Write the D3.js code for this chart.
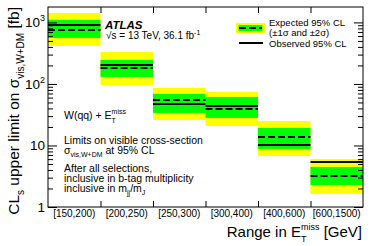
<!DOCTYPE html>
<html><head><meta charset="utf-8">
<script src="https://cdn.jsdelivr.net/npm/d3@7"></script>
<style>
body{margin:0;background:#fff}
svg{display:block}
text{font-family:"Liberation Sans",Arial,Helvetica,sans-serif;fill:#000;white-space:pre}
</style>
</head><body>
<svg id="c" width="374" height="246"></svg>
<script>
// ---- data ----
const categories = ["[150,200)","[200,250)","[250,300)","[300,400)","[400,600)","[600,1500)"];
const observed = [910, 204, 47.3, 43.9, 10.2, 5.4];
const expected = [755, 182, 55, 39.2, 13.7, 3.19];
const minus1s  = [560, 130, 33.8, 28, 8.8, 2.28];
const plus1s   = [1099, 246, 68.8, 61.5, 19.3, 4.47];
const minus2s  = [415, 96, 26, 20.7, 6.75, 1.63];
const plus2s   = [1427, 331, 86, 74, 25, 6.03];
const yMajorTicks = [1, 10, 100, 1000];
const yTickLabels = [["1",""],["10",""],["10","2"],["10","3"]];
const yDomain = [1, 1780];

// ---- layout ----
const L = 48, R = 363, T = 7, B = 207;
const svg = d3.select("#c");
const x = d3.scaleBand().domain(categories).range([L, R]).padding(0);
const xb = d3.scaleLinear().domain([0, categories.length]).range([L, R]);
const y = d3.scaleLog().domain(yDomain).range([B, T]);

const yMinor = [];
for (let d = 1; d <= 1000; d *= 10) for (let k = 2; k <= 9; k++) { const v = d * k; if (v < yDomain[1]) yMinor.push(v); }

function rich(parent, segs, size, opts = {}) {
  const g = parent.append("g");
  let cx = 0;
  segs.forEach(s => {
    if (typeof s === "string") {
      const t = g.append("text").attr("x", cx).attr("y", 0).attr("xml:space", "preserve").style("font-size", size + "px")
        .style("font-weight", opts.weight || "normal").style("font-style", opts.style || "normal").text(s);
      cx += t.node().getComputedTextLength();
    } else {
      let w = 0;
      const ss = s.size || size * 0.62;
      if (s.sup) { const t = g.append("text").attr("x", cx).attr("y", -size * (s.supUp || 0.42)).style("font-size", ss + "px").text(s.sup); w = Math.max(w, t.node().getComputedTextLength()); }
      if (s.sub) { const t = g.append("text").attr("x", cx).attr("y", size * (s.subDown || 0.3)).style("font-size", ss + "px").text(s.sub); w = Math.max(w, t.node().getComputedTextLength()); }
      cx += w;
    }
  });
  return { g, w: cx };
}
function place(r, px, py, anchor, rot) {
  const dx = anchor === "end" ? -r.w : anchor === "middle" ? -r.w / 2 : 0;
  r.g.attr("transform", `translate(${px},${py})${rot ? " rotate(" + rot + ")" : ""} translate(${dx},0)`);
}

// ---- bands ----
const bins = categories.map((c, i) => ({ c, o: observed[i], e: expected[i], m1: minus1s[i], p1: plus1s[i], m2: minus2s[i], p2: plus2s[i] }));
svg.append("g").selectAll("rect").data(bins).join("rect")
  .attr("x", d => x(d.c)).attr("width", x.bandwidth())
  .attr("y", d => y(d.p2)).attr("height", d => y(d.m2) - y(d.p2)).attr("fill", "#ffff00");
svg.append("g").selectAll("rect").data(bins).join("rect")
  .attr("x", d => x(d.c)).attr("width", x.bandwidth())
  .attr("y", d => y(d.p1)).attr("height", d => y(d.m1) - y(d.p1)).attr("fill", "#00ff00");
svg.append("g").selectAll("line").data(bins).join("line")
  .attr("x1", d => x(d.c)).attr("x2", d => x(d.c) + x.bandwidth())
  .attr("y1", d => y(d.e)).attr("y2", d => y(d.e))
  .attr("stroke", "#000").attr("stroke-width", 2).attr("stroke-dasharray", "7,3");
svg.append("g").selectAll("line").data(bins).join("line")
  .attr("x1", d => x(d.c)).attr("x2", d => x(d.c) + x.bandwidth())
  .attr("y1", d => y(d.o)).attr("y2", d => y(d.o))
  .attr("stroke", "#000").attr("stroke-width", 2);

// ---- axes ----
function styleAxis(g) { g.select(".domain").remove(); g.selectAll("line").attr("stroke", "#000"); }
svg.append("g").attr("transform", `translate(${L},0)`).call(d3.axisLeft(y).tickValues(yMinor).tickSize(-5).tickFormat("")).call(styleAxis);
svg.append("g").attr("transform", `translate(${L},0)`).call(d3.axisLeft(y).tickValues(yMajorTicks).tickSize(-9).tickFormat("")).call(styleAxis);
svg.append("g").attr("transform", `translate(${R},0)`).call(d3.axisRight(y).tickValues(yMinor).tickSize(-5).tickFormat("")).call(styleAxis);
svg.append("g").attr("transform", `translate(${R},0)`).call(d3.axisRight(y).tickValues(yMajorTicks).tickSize(-9).tickFormat("")).call(styleAxis);
const bounds = d3.range(1, categories.length);
svg.append("g").attr("transform", `translate(0,${B})`).call(d3.axisBottom(xb).tickValues(bounds).tickSize(-6).tickFormat("")).call(styleAxis);
svg.append("g").attr("transform", `translate(0,${T})`).call(d3.axisTop(xb).tickValues(bounds).tickSize(-6).tickFormat("")).call(styleAxis);
// x tick labels
const xl = svg.append("g").attr("transform", `translate(0,${B})`).call(d3.axisBottom(x).tickSize(0).tickPadding(3));
xl.select(".domain").remove();
xl.selectAll("text").style("font-size", "10px").style("font-family", '"Liberation Sans",Arial,sans-serif').attr("fill", "#000");
// y tick labels
yMajorTicks.forEach((v, i) => {
  const lab = yTickLabels[i];
  const segs = [lab[0]];
  if (lab[1]) segs.push({ sup: lab[1], size: 9, supUp: 0.45 });
  place(rich(svg, segs, 13.5), 45, y(v) + 5, "end");
});
// frame
svg.append("rect").attr("x", L).attr("y", T).attr("width", R - L).attr("height", B - T).attr("fill", "none").attr("stroke", "#000").attr("stroke-width", 1);

// ---- titles ----
place(rich(svg, ["Range in E", { sup: "miss", sub: "T", size: 9, supUp: 0.45, subDown: 0.35 }, " [GeV]"], 15), 362, 237, "end");
place(rich(svg, ["CL", { sub: "s", size: 10, subDown: 0.35 }, " upper limit on σ", { sub: "vis,W+DM", size: 10, subDown: 0.35 }, " [fb]"], 15.5), 19, 7, "end", -90);

// ---- annotations ----
place(rich(svg, ["ATLAS"], 11.5, { weight: "bold", style: "italic" }), 105, 29, "start");
place(rich(svg, ["√s = 13 TeV, 36.1 fb", { sup: "-1", size: 7 }], 10), 106, 39, "start");

svg.append("rect").attr("x", 236).attr("y", 23).attr("width", 29).attr("height", 10).attr("fill", "#ffff00");
svg.append("rect").attr("x", 238.5).attr("y", 25).attr("width", 24).attr("height", 6).attr("fill", "#00ff00");
svg.append("line").attr("x1", 239).attr("x2", 262).attr("y1", 28).attr("y2", 28).attr("stroke", "#000").attr("stroke-width", 2).attr("stroke-dasharray", "7,3");
svg.append("line").attr("x1", 239).attr("x2", 263).attr("y1", 43).attr("y2", 43).attr("stroke", "#000").attr("stroke-width", 2);
place(rich(svg, ["Expected 95% CL"], 9.5), 269, 25.5, "start");
place(rich(svg, ["(±1σ and ±2σ)"], 9.5), 269, 36, "start");
place(rich(svg, ["Observed 95% CL"], 9.5), 269, 47, "start");

place(rich(svg, ["W(qq) + E", { sup: "miss", sub: "T", size: 7, supUp: 0.5, subDown: 0.4 }], 10.5), 64, 119, "start");
place(rich(svg, ["Limits on visible cross-section"], 10.5), 64, 144, "start");
place(rich(svg, ["σ", { sub: "vis,W+DM", size: 7, subDown: 0.3 }, " at 95% CL"], 10.5), 64, 154, "start");
place(rich(svg, ["After all selections,"], 10.5), 64, 172, "start");
place(rich(svg, ["inclusive in b-tag multiplicity"], 10.5), 64, 182, "start");
place(rich(svg, ["inclusive in m", { sub: "jj", size: 7, subDown: 0.3 }, "/m", { sub: "J", size: 7, subDown: 0.3 }], 10.5), 64, 192, "start");
</script>
</body></html>
